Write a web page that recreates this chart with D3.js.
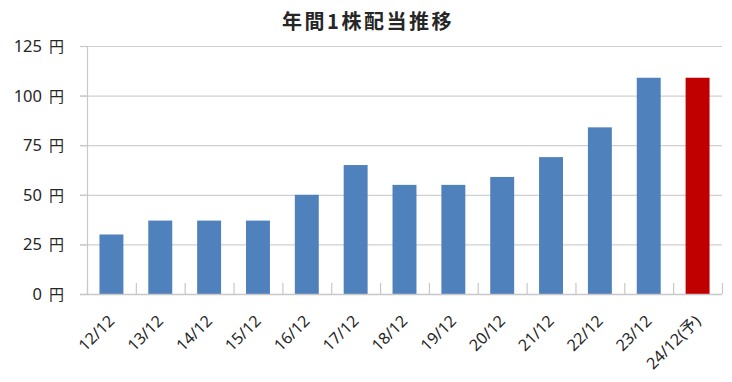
<!DOCTYPE html>
<html><head><meta charset="utf-8">
<script src="https://cdn.jsdelivr.net/npm/d3@7"></script>
<style>body{margin:0;background:#fff}svg{display:block}</style>
</head><body>
<svg id="c" width="732" height="382"></svg>
<script>
const title = "年間1株配当推移";
const categories = ["12/12","13/12","14/12","15/12","16/12","17/12","18/12","19/12","20/12","21/12","22/12","23/12","24/12(予)"];
const dividends = [30,37,37,37,50,65,55,55,59,69,84,109,109];
const forecast = [false,false,false,false,false,false,false,false,false,false,false,false,true];
const yTicks = [0,25,50,75,100,125];
const yUnit = "円";

const svg = d3.select("#c");
const font = "'Noto Sans', 'Noto Sans CJK JP', sans-serif";
const cjk = "'Noto Sans CJK JP', sans-serif";
const mLeft = 87, mRight = 722, mTop = 46, mBottom = 294;
const x = d3.scaleBand().domain(categories).range([mLeft, mRight]).paddingInner(0.51).paddingOuter(0.255);
const xb = d3.scaleBand().domain(categories).range([mLeft, mRight]);
const y = d3.scaleLinear().domain([0,125]).range([mBottom, mTop]);

svg.append("text").attr("x", 368).attr("y", 28.5).attr("text-anchor","middle")
  .style("font-family", cjk).style("font-size", "20px").style("letter-spacing", "2.5px").style("font-weight","bold").attr("fill","#262626").text(title);

// gridlines
svg.append("g").selectAll("line").data(yTicks.filter(d=>d>0)).join("line")
  .attr("x1", 80).attr("x2", mRight).attr("y1", d=>y(d)+0.5).attr("y2", d=>y(d)+0.5)
  .attr("stroke","#d0d0d0").attr("stroke-width",1.2);

// y axis
const ya = svg.append("g").attr("transform",`translate(${mLeft},0)`)
  .call(d3.axisLeft(y).tickValues(yTicks).tickSize(7).tickFormat(""));
ya.select(".domain").attr("stroke","#c8c8c8").attr("stroke-width",1.2);
ya.selectAll(".tick line").attr("stroke","#c8c8c8").attr("stroke-width",1.2);
const yl = svg.append("g").selectAll("text").data(yTicks).join("text")
  .attr("x", 64).attr("y", d=>y(d)+6)
  .attr("text-anchor","end").attr("fill","#262626")
  .style("font-family", font).style("font-size","16.5px");
yl.append("tspan").text(d=>d);
yl.append("tspan").attr("dx", 7).style("font-family", cjk).style("font-size","15px").text(yUnit);

// bars
svg.append("g").selectAll("rect").data(categories).join("rect")
  .attr("x", d=>x(d)).attr("width", x.bandwidth())
  .attr("y", (d,i)=>y(dividends[i])).attr("height", (d,i)=>y(0)-y(dividends[i]))
  .attr("fill", (d,i)=>forecast[i] ? "#c00000" : "#4f81bd");

// x axis
const xa = svg.append("g").attr("transform",`translate(0,${mBottom})`)
  .call(d3.axisBottom(xb).tickSize(0).tickFormat(""));
xa.select(".domain").attr("stroke","#c8c8c8").attr("stroke-width",1.5).attr("d",`M${mLeft-7},0.5H${mRight}`);
svg.append("g").selectAll("line").data(categories.concat(["_end"])).join("line")
  .attr("x1",(d,i)=>mLeft + i*xb.step()+0.5).attr("x2",(d,i)=>mLeft + i*xb.step()+0.5)
  .attr("y1",mBottom).attr("y2",mBottom-11).attr("stroke","#c8c8c8").attr("stroke-width",1.2);

svg.append("g").selectAll("text").data(categories).join("text")
  .attr("transform", d=>`translate(${xb(d)+xb.bandwidth()/2+4},${mBottom+28}) rotate(-45)`)
  .attr("text-anchor","end").attr("fill","#262626")
  .style("font-family",font).style("font-size","16px").text(d=>d);
</script>
</body></html>
